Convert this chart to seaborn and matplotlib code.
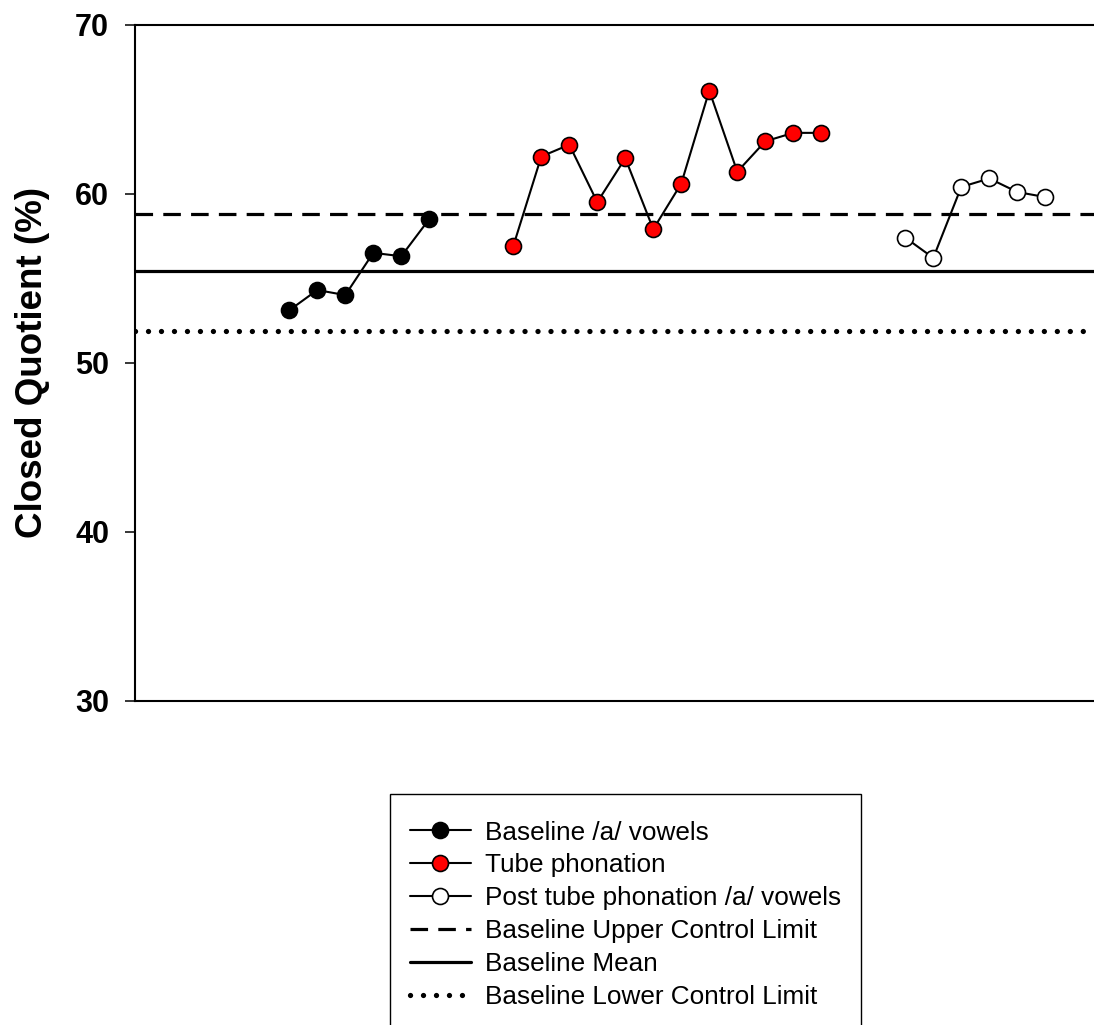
import matplotlib
matplotlib.use("Agg")
import matplotlib.pyplot as plt
from matplotlib.patches import Rectangle
import numpy as np
import pandas as pd
import seaborn as sns

# Session positions and closed quotient values (%) for each phase
baseline_x = [1, 2, 3, 4, 5, 6]
baseline_cq = [53.1, 54.3, 54.0, 56.5, 56.3, 58.5]

tube_x = [9, 10, 11, 12, 13, 14, 15, 16, 17, 18, 19, 20]
tube_cq = [56.9, 62.2, 62.9, 59.5, 62.1, 57.9, 60.6, 66.1, 61.3, 63.1, 63.6, 63.6]

post_x = [23, 24, 25, 26, 27, 28]
post_cq = [57.4, 56.2, 60.4, 60.9, 60.1, 59.8]

# Baseline control chart limits
upper_limit = 58.8
baseline_mean = 55.4
lower_limit = 51.9

y_ticks = [30, 40, 50, 60, 70]

series_labels = ["Baseline /a/ vowels", "Tube phonation", "Post tube phonation /a/ vowels"]
limit_labels = ["Baseline Upper Control Limit", "Baseline Mean", "Baseline Lower Control Limit"]

df = pd.concat([
    pd.DataFrame({"session": baseline_x, "cq": baseline_cq, "phase": series_labels[0]}),
    pd.DataFrame({"session": tube_x, "cq": tube_cq, "phase": series_labels[1]}),
    pd.DataFrame({"session": post_x, "cq": post_cq, "phase": series_labels[2]}),
])

sns.set_style("white")
plt.rcParams["font.family"] = ["Liberation Sans", "DejaVu Sans"]
plt.rcParams["text.color"] = "black"
plt.rcParams["axes.labelcolor"] = "black"

fig = plt.figure(figsize=(10.94, 10.25), dpi=100)
ax = fig.add_axes([0.1234, 0.3164, 0.8766, 0.6595])

face_colors = ["black", "#ff0000", "white"]
for label, fc in zip(series_labels, face_colors):
    sub = df[df["phase"] == label]
    sns.lineplot(data=sub, x="session", y="cq", ax=ax, color="black", lw=1.5,
                 marker="o", markersize=11.5, markerfacecolor=fc,
                 markeredgecolor="black", markeredgewidth=1.2, label=label,
                 zorder=3)

ax.axhline(upper_limit, color="black", lw=2.3, linestyle=(0, (5.5, 3.2)),
           label=limit_labels[0], zorder=2)
ax.axhline(baseline_mean, color="black", lw=2.3, linestyle="-",
           label=limit_labels[1], zorder=2)
ax.axhline(lower_limit, color="black", lw=3.8, linestyle=(0, (0.01, 2.45)),
           dash_capstyle="round", label=limit_labels[2], zorder=2)

ax.set_xlim(-4.51, 29.74)
ax.set_ylim(30, 70)
ax.set_yticks(y_ticks)
ax.set_xticks([])
ax.set_xlabel("")
ax.set_ylabel("Closed Quotient (%)", fontsize=26.5, fontweight="bold",
              color="black")
ax.yaxis.set_label_coords(-0.089, 0.5)

for lab in ax.get_yticklabels():
    lab.set_fontweight("bold")
ax.tick_params(axis="y", direction="out", length=7.2, width=1.1, pad=11.5,
               labelsize=22, left=True, color="black", labelcolor="black")

for side in ["left", "top", "bottom"]:
    ax.spines[side].set_visible(True)
    ax.spines[side].set_color("black")
    ax.spines[side].set_linewidth(1.5)
ax.spines["right"].set_visible(False)

# Legend entries, with a separate frame that leaves a little extra room on top
W, H = fig.bbox.width, fig.bbox.height
handles, labels = ax.get_legend_handles_labels()
leg = ax.legend(handles, labels, loc="upper left",
                bbox_to_anchor=(390 / W, 1 - 801 / H),
                bbox_transform=fig.transFigure, fontsize=18.8,
                frameon=False, borderpad=0.75, labelspacing=0.34,
                handlelength=2.34, handletextpad=0.55, borderaxespad=0)
for t in leg.get_texts():
    t.set_color("black")

fig.canvas.draw()
bb = leg.get_window_extent()
frame = Rectangle((bb.x0 / W, bb.y0 / H), bb.width / W, (bb.height + 7) / H,
                  transform=fig.transFigure, fill=False, edgecolor="black",
                  linewidth=1.0, zorder=0)
fig.add_artist(frame)

fig.savefig("out.png", dpi=100)
